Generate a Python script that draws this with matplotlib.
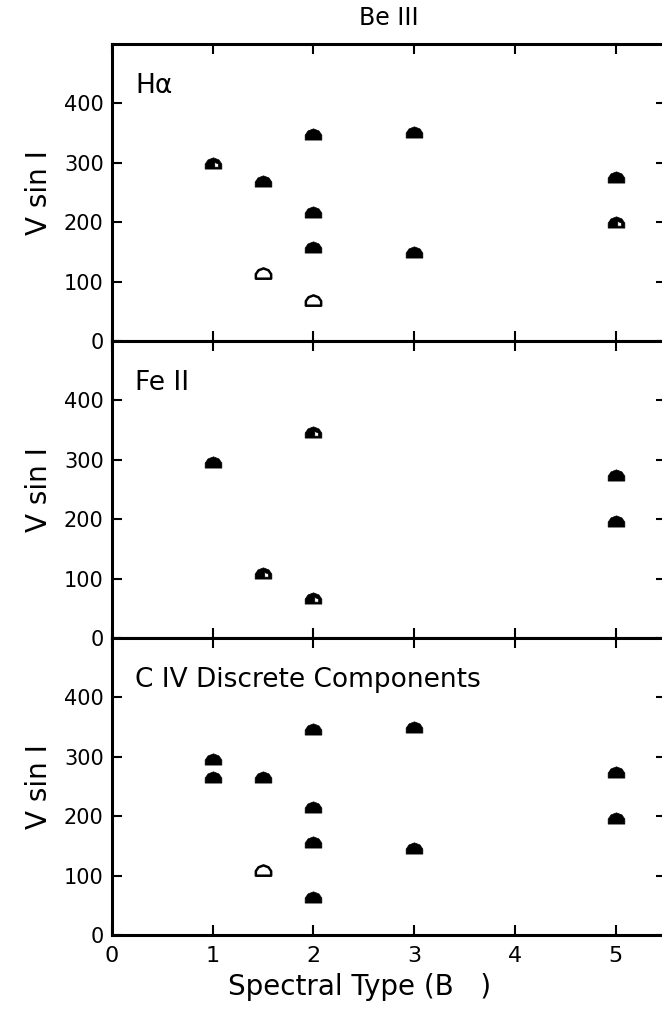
import matplotlib
matplotlib.use('Agg')
import matplotlib.pyplot as plt
from matplotlib.path import Path

# Panel names and data (spectral subtype B, v sin i in km/s)
PANEL_LABELS = ['H\u03b1', 'Fe II', 'C IV Discrete Components']

HA_X = [1.0, 1.5, 2.0, 2.0, 2.0, 2.0, 1.5, 3.0, 3.0, 5.0, 5.0]
HA_V = [298, 267, 347, 215, 157, 68, 112, 350, 148, 275, 198]
HA_KIND = ['half', 'fill', 'fill', 'fill', 'fill', 'open', 'open', 'fill', 'fill', 'fill', 'half']

FE_X = [1.0, 2.0, 1.5, 2.0, 5.0, 5.0]
FE_V = [295, 345, 108, 65, 273, 196]
FE_KIND = ['fill', 'half', 'half', 'half', 'fill', 'fill']

CIV_X = [1.0, 1.0, 1.5, 2.0, 2.0, 2.0, 1.5, 2.0, 3.0, 3.0, 5.0, 5.0]
CIV_V = [295, 265, 265, 345, 213, 155, 108, 63, 348, 145, 273, 195]
CIV_KIND = ['fill', 'fill', 'fill', 'fill', 'fill', 'fill', 'open', 'fill', 'fill', 'fill', 'fill', 'fill']

X_TICKS = [0, 1, 2, 3, 4, 5]
Y_TICKS = [0, 100, 200, 300, 400]

plt.rcParams['font.family'] = ['DejaVu Sans']

# dome-shaped marker, and the same with a small notch cut out
DOME = [(-1.0, -0.55), (1.0, -0.55), (1.0, 0.05), (0.65, 0.55), (0.0, 0.8),
        (-0.65, 0.55), (-1.0, 0.05), (-1.0, -0.55)]
NOTCH = [(0.15, -0.32), (0.15, 0.25), (0.6, 0.05), (0.6, -0.32), (0.15, -0.32)]
dome_path = Path(DOME, [Path.MOVETO] + [Path.LINETO] * 6 + [Path.CLOSEPOLY])
half_path = Path(DOME + NOTCH,
                 [Path.MOVETO] + [Path.LINETO] * 6 + [Path.CLOSEPOLY]
                 + [Path.MOVETO] + [Path.LINETO] * 3 + [Path.CLOSEPOLY])

fig = plt.figure(figsize=(6.62, 10.14), dpi=100)
W, H = 662.0, 1014.0
left_px, right_px = 112, 666
panel_bottoms = [341, 638, 935]
panel_h = 297

panels = [(HA_X, HA_V, HA_KIND), (FE_X, FE_V, FE_KIND), (CIV_X, CIV_V, CIV_KIND)]
axes = []
for i, (xs, vs, kinds) in enumerate(panels):
    b = panel_bottoms[i]
    ax = fig.add_axes([left_px / W, 1 - b / H, (right_px - left_px) / W, panel_h / H])
    ax.set_xlim(0, 5.5)
    ax.set_ylim(0, 500)
    for x, v, k in zip(xs, vs, kinds):
        if k == 'fill':
            ax.plot(x, v, marker=dome_path, ms=12, color='black', mew=0.5, ls='none')
        elif k == 'half':
            ax.plot(x, v, marker=half_path, ms=12, color='black', mew=0.5, ls='none')
        else:
            ax.plot(x, v, marker=dome_path, ms=11, mfc='white', mec='black', mew=1.8, ls='none')
    for s in ax.spines.values():
        s.set_linewidth(2.2)
    ax.set_xticks(X_TICKS)
    ax.set_yticks(Y_TICKS)
    ax.tick_params(direction='in', length=7, width=1.5, top=True, right=True,
                   labelsize=15, pad=6)
    ax.set_yticklabels(['0', '100', '200', '300', '400'])
    if i < 2:
        ax.set_xticklabels([])
    ax.text(0.23, 430, PANEL_LABELS[i], fontsize=19, va='center', ha='left')
    ax.set_ylabel('V sin I', fontsize=20, labelpad=8)
    axes.append(ax)

axes[2].tick_params(axis='x', labelsize=16, pad=8)
fig.text(389 / W, 1 - 18 / H, 'Be III', fontsize=17, ha='center', va='center')
fig.text(360 / W, 1 - 987 / H, 'Spectral Type (B   )', fontsize=20, ha='center', va='center')

fig.savefig('out.png', dpi=100)
